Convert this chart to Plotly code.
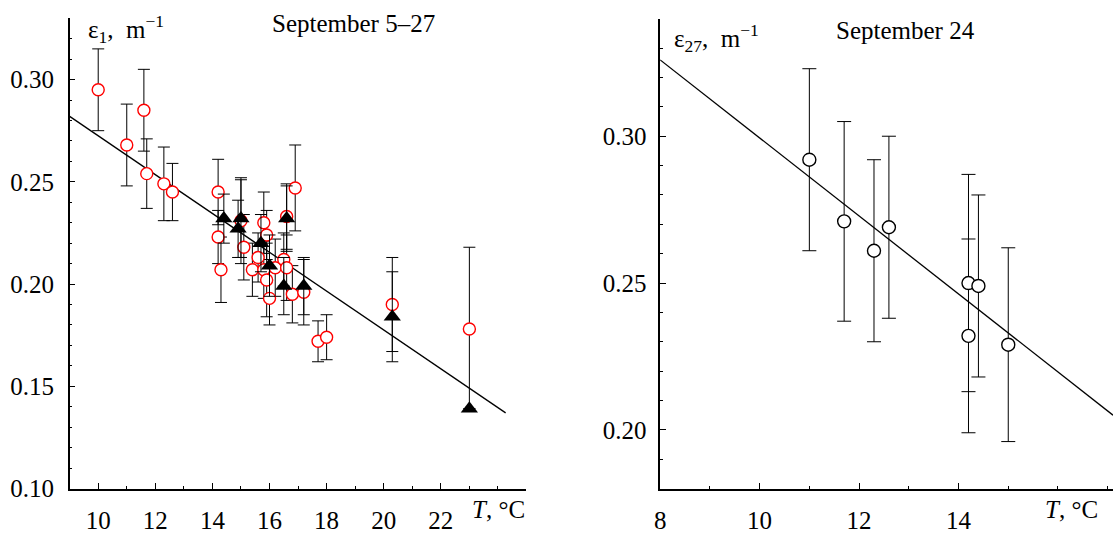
import plotly.graph_objects as go

# ---- Left panel: ε1 vs water temperature, September 5–27 ----
# open red circles
circ_T = [10.0, 11.0, 11.6, 11.7, 12.3, 12.6, 14.2, 14.2, 14.3, 15.0, 15.1, 15.4,
          15.6, 15.8, 15.8, 15.9, 15.9, 16.0, 16.2, 16.5, 16.6, 16.6, 16.8, 16.9,
          17.2, 17.7, 18.0, 20.3, 23.0]
circ_eps = [0.295, 0.268, 0.285, 0.254, 0.249, 0.245, 0.245, 0.223, 0.207, 0.231, 0.218, 0.207,
            0.213, 0.230, 0.207, 0.224, 0.202, 0.193, 0.208, 0.212, 0.233, 0.208, 0.195, 0.247,
            0.196, 0.172, 0.174, 0.190, 0.178]
circ_err = [0.020, 0.020, 0.020, 0.017, 0.018, 0.014, 0.016, 0.013, 0.016, 0.021, 0.016, 0.013,
            0.012, 0.015, 0.014, 0.012, 0.018, 0.013, 0.014, 0.013, 0.016, 0.016, 0.014, 0.021,
            0.016, 0.010, 0.011, 0.023, 0.040]

# filled black triangles
tri_T = [14.4, 14.9, 15.0, 15.7, 16.0, 16.5, 16.6, 17.2, 20.3, 23.0]
tri_eps = [0.232, 0.227, 0.232, 0.220, 0.209, 0.199, 0.232, 0.199, 0.184, 0.139]
tri_err = [0.012, 0.014, 0.019, 0.014, 0.015, 0.014, 0.016, 0.014, 0.022, 0.0]

# linear fit
fit1_T = [9.0, 24.27]
fit1_eps = [0.282, 0.137]

# ---- Right panel: ε27 vs temperature, September 24 ----
r_T = [11.0, 11.7, 12.3, 12.6, 14.2, 14.2, 14.4, 15.0]
r_eps = [0.292, 0.271, 0.261, 0.269, 0.250, 0.232, 0.249, 0.229]
r_err = [0.031, 0.034, 0.031, 0.031, 0.037, 0.033, 0.031, 0.033]

fit2_T = [8.0, 17.106]
fit2_eps = [0.326, 0.205]

# tick labels
left_xticks = [10, 12, 14, 16, 18, 20, 22, 24]
left_xlabels = ["10", "12", "14", "16", "18", "20", "22", ""]
left_yticks = [0.10, 0.15, 0.20, 0.25, 0.30]
left_ylabels = ["0.10", "0.15", "0.20", "0.25", "0.30"]
right_xticks = [8, 10, 12, 14, 16]
right_xlabels = ["8", "10", "12", "14", ""]
right_yticks = [0.20, 0.25, 0.30]
right_ylabels = ["0.20", "0.25", "0.30"]

FONT = "Liberation Serif, Times New Roman, serif"
FS = 25
W, H = 1113, 534

fig = go.Figure()

fig.add_trace(go.Scatter(
    x=fit1_T, y=fit1_eps, mode="lines",
    line=dict(color="black", width=1.3), xaxis="x", yaxis="y", showlegend=False))
fig.add_trace(go.Scatter(
    x=circ_T, y=circ_eps, mode="markers",
    marker=dict(symbol="circle", size=12, color="white", line=dict(color="#ff0000", width=1.4)),
    error_y=dict(type="data", array=circ_err, color="black", thickness=1, width=6),
    xaxis="x", yaxis="y", showlegend=False))
fig.add_trace(go.Scatter(
    x=tri_T, y=tri_eps, mode="markers",
    marker=dict(symbol="triangle-up", size=15, color="black", line=dict(width=0)),
    error_y=dict(type="data", array=tri_err, color="black", thickness=1, width=6),
    xaxis="x", yaxis="y", showlegend=False))

fig.add_trace(go.Scatter(
    x=fit2_T, y=fit2_eps, mode="lines",
    line=dict(color="black", width=1.3), xaxis="x2", yaxis="y2", showlegend=False))
fig.add_trace(go.Scatter(
    x=r_T, y=r_eps, mode="markers",
    marker=dict(symbol="circle", size=13, color="white", line=dict(color="black", width=1.4)),
    error_y=dict(type="data", array=r_err, color="black", thickness=1, width=7),
    xaxis="x2", yaxis="y2", showlegend=False))


def frange(a, b, step):
    n = int(round((b - a) / step))
    return [round(a + i * step, 4) for i in range(n + 1)]


def axis(**kw):
    base = dict(
        showgrid=False, zeroline=False, showline=True, linecolor="black", linewidth=1.5,
        ticks="inside", ticklen=6, tickwidth=1.2, tickcolor="black", mirror=False,
        tickfont=dict(family=FONT, size=FS, color="black"), tickmode="array",
    )
    base.update(kw)
    return base


def minor(vals):
    return dict(tickmode="array", tickvals=vals, ticks="inside",
                ticklen=3, tickcolor="black", tickwidth=1)


fig.update_layout(
    width=W, height=H,
    margin=dict(l=0, r=0, t=0, b=0),
    paper_bgcolor="white", plot_bgcolor="white",
    font=dict(family=FONT, size=FS, color="black"),
    xaxis=axis(domain=[64 / W, 523.3 / W], range=[9, 25], anchor="y",
               tickvals=left_xticks, ticktext=left_xlabels, ticklabelstandoff=9,
               minor=minor(frange(9, 25, 1))),
    yaxis=axis(domain=[1 - 501.7 / H, 1 - 18.7 / H], range=[0.10, 0.33], anchor="x",
               tickvals=left_yticks, ticktext=left_ylabels, ticklabelstandoff=9,
               minor=minor(frange(0.10, 0.33, 0.01))),
    xaxis2=axis(domain=[657.7 / W, 1.0], range=[8, 17.106], anchor="y2",
                tickvals=right_xticks, ticktext=right_xlabels, ticklabelstandoff=9,
                minor=minor(frange(8, 17, 1))),
    yaxis2=axis(domain=[1 - 501.7 / H, 1 - 19.3 / H], range=[0.18, 0.34], anchor="x2",
                tickvals=right_yticks, ticktext=right_ylabels, ticklabelstandoff=7,
                minor=minor(frange(0.18, 0.34, 0.01))),
)


def label(text, xpx, ypx, xanchor="left"):
    fig.add_annotation(text=text, x=xpx / W, y=1 - ypx / H, xref="paper", yref="paper",
                       xanchor=xanchor, yanchor="middle", showarrow=False,
                       font=dict(family=FONT, size=FS, color="black"))


label("ε<sub>1</sub>,  m<sup>−1</sup>", 80, 30)
label("September 5–27", 349, 24, xanchor="center")
label("<i>T</i>, °C", 495, 523, xanchor="center")

label("ε<sub>27</sub>,  m<sup>−1</sup>", 670, 39)
label("September 24", 904, 31, xanchor="center")
label("<i>T</i>, °C", 1071, 523, xanchor="center")

fig.write_html("out.html")
